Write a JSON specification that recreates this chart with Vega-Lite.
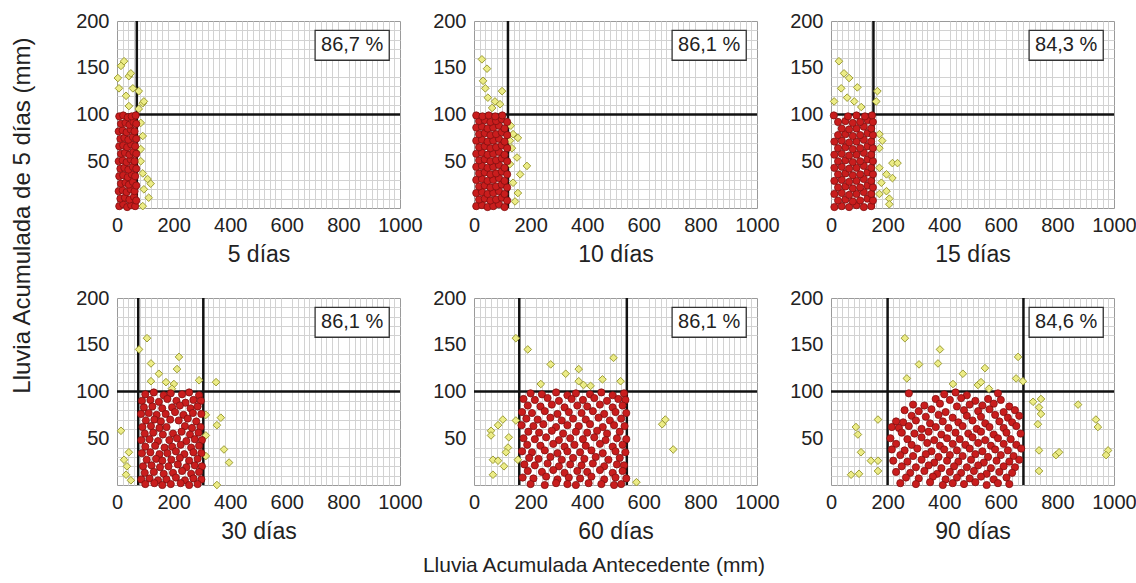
{
"$schema": "https://vega.github.io/schema/vega-lite/v6.json",
"background": "white",
"padding": {"left": 11, "top": 10, "right": 5, "bottom": 5},
"config": {
  "font": "Liberation Sans",
  "view": {"stroke": "#9a9a9a", "strokeWidth": 1},
  "axis": {"labelFontSize": 20, "labelColor": "#222", "titleFontSize": 23, "titleFontWeight": "normal", "titleColor": "#222", "labelOverlap": false, "labelFlush": false, "format": "d"},
  "axisTop": {"grid": true, "gridColor": "#d2d2d2", "gridWidth": 1, "labels": false, "ticks": false, "domain": false, "title": null},
  "axisRight": {"grid": true, "gridColor": "#d2d2d2", "gridWidth": 1, "labels": false, "ticks": false, "domain": false, "title": null},
  "axisBottom": {"grid": true, "gridColor": "#a6a6a6", "ticks": false, "domain": false, "labelPadding": 7, "titlePadding": 8},
  "axisLeft": {"grid": true, "gridColor": "#a6a6a6", "ticks": false, "domain": false, "labelPadding": 8},
  "title": {"fontSize": 21, "fontWeight": "normal", "color": "#222", "font": "Liberation Sans"}
},
"datasets": {
"r1": [{"x":8,"y":2},{"x":22,"y":4},{"x":36,"y":1},{"x":50,"y":3},{"x":64,"y":2},{"x":12,"y":10},{"x":28,"y":11},{"x":44,"y":9},{"x":60,"y":12},{"x":68,"y":8},{"x":6,"y":18},{"x":20,"y":19},{"x":34,"y":17},{"x":48,"y":20},{"x":62,"y":18},{"x":14,"y":26},{"x":30,"y":27},{"x":42,"y":25},{"x":56,"y":28},{"x":68,"y":24},{"x":8,"y":34},{"x":22,"y":35},{"x":38,"y":33},{"x":52,"y":36},{"x":64,"y":34},{"x":12,"y":42},{"x":26,"y":43},{"x":40,"y":41},{"x":56,"y":44},{"x":68,"y":42},{"x":6,"y":50},{"x":20,"y":51},{"x":34,"y":49},{"x":48,"y":52},{"x":62,"y":50},{"x":14,"y":58},{"x":28,"y":59},{"x":44,"y":57},{"x":58,"y":60},{"x":68,"y":58},{"x":8,"y":66},{"x":22,"y":67},{"x":36,"y":65},{"x":50,"y":68},{"x":64,"y":66},{"x":12,"y":74},{"x":26,"y":75},{"x":40,"y":73},{"x":56,"y":76},{"x":68,"y":74},{"x":6,"y":82},{"x":20,"y":83},{"x":34,"y":81},{"x":48,"y":84},{"x":62,"y":82},{"x":14,"y":90},{"x":30,"y":91},{"x":44,"y":89},{"x":58,"y":92},{"x":68,"y":90},{"x":8,"y":98},{"x":22,"y":99},{"x":38,"y":97},{"x":52,"y":98},{"x":66,"y":99}],
"y1": [{"x":25,"y":157},{"x":3,"y":139},{"x":42,"y":141},{"x":7,"y":128},{"x":56,"y":128},{"x":32,"y":120},{"x":91,"y":112},{"x":42,"y":109},{"x":77,"y":106},{"x":84,"y":91},{"x":91,"y":77},{"x":84,"y":63},{"x":91,"y":37},{"x":108,"y":31},{"x":119,"y":26},{"x":95,"y":20},{"x":112,"y":11},{"x":91,"y":2},{"x":14,"y":152},{"x":49,"y":144},{"x":77,"y":125},{"x":95,"y":114},{"x":84,"y":50}],
"r2": [{"x":8,"y":2},{"x":28,"y":3},{"x":48,"y":1},{"x":68,"y":2},{"x":88,"y":4},{"x":108,"y":1},{"x":18,"y":9},{"x":38,"y":10},{"x":58,"y":8},{"x":78,"y":9},{"x":98,"y":11},{"x":117,"y":8},{"x":8,"y":16},{"x":28,"y":17},{"x":48,"y":15},{"x":68,"y":16},{"x":88,"y":18},{"x":108,"y":15},{"x":18,"y":23},{"x":38,"y":24},{"x":58,"y":22},{"x":78,"y":23},{"x":98,"y":25},{"x":117,"y":22},{"x":8,"y":30},{"x":28,"y":31},{"x":48,"y":29},{"x":68,"y":30},{"x":88,"y":32},{"x":108,"y":29},{"x":18,"y":37},{"x":38,"y":38},{"x":58,"y":36},{"x":78,"y":37},{"x":98,"y":39},{"x":117,"y":36},{"x":8,"y":44},{"x":28,"y":45},{"x":48,"y":43},{"x":68,"y":44},{"x":88,"y":46},{"x":108,"y":43},{"x":18,"y":51},{"x":38,"y":52},{"x":58,"y":50},{"x":78,"y":51},{"x":98,"y":53},{"x":117,"y":50},{"x":8,"y":58},{"x":28,"y":59},{"x":48,"y":57},{"x":68,"y":58},{"x":88,"y":60},{"x":108,"y":57},{"x":18,"y":65},{"x":38,"y":66},{"x":58,"y":64},{"x":78,"y":65},{"x":98,"y":67},{"x":117,"y":64},{"x":8,"y":72},{"x":28,"y":73},{"x":48,"y":71},{"x":68,"y":72},{"x":88,"y":74},{"x":108,"y":71},{"x":18,"y":79},{"x":38,"y":80},{"x":58,"y":78},{"x":78,"y":79},{"x":98,"y":81},{"x":117,"y":78},{"x":8,"y":86},{"x":28,"y":87},{"x":48,"y":85},{"x":68,"y":86},{"x":88,"y":88},{"x":108,"y":85},{"x":18,"y":93},{"x":38,"y":94},{"x":58,"y":92},{"x":78,"y":93},{"x":98,"y":95},{"x":117,"y":92},{"x":8,"y":99},{"x":30,"y":98},{"x":52,"y":99},{"x":75,"y":98},{"x":100,"y":99}],
"y2": [{"x":28,"y":159},{"x":46,"y":149},{"x":32,"y":136},{"x":99,"y":125},{"x":49,"y":118},{"x":74,"y":114},{"x":64,"y":107},{"x":92,"y":111},{"x":138,"y":79},{"x":155,"y":75},{"x":134,"y":64},{"x":152,"y":54},{"x":187,"y":45},{"x":163,"y":36},{"x":138,"y":27},{"x":155,"y":16},{"x":145,"y":7},{"x":127,"y":47},{"x":127,"y":72},{"x":40,"y":128},{"x":130,"y":88}],
"r3": [{"x":12,"y":1},{"x":38,"y":2},{"x":64,"y":1},{"x":90,"y":3},{"x":116,"y":1},{"x":142,"y":2},{"x":25,"y":8},{"x":51,"y":9},{"x":77,"y":7},{"x":103,"y":8},{"x":129,"y":10},{"x":148,"y":8},{"x":12,"y":15},{"x":38,"y":16},{"x":64,"y":14},{"x":90,"y":15},{"x":116,"y":17},{"x":142,"y":15},{"x":25,"y":22},{"x":51,"y":23},{"x":77,"y":21},{"x":103,"y":22},{"x":129,"y":24},{"x":148,"y":22},{"x":12,"y":29},{"x":38,"y":30},{"x":64,"y":28},{"x":90,"y":29},{"x":116,"y":31},{"x":142,"y":29},{"x":25,"y":36},{"x":51,"y":37},{"x":77,"y":35},{"x":103,"y":36},{"x":129,"y":38},{"x":148,"y":36},{"x":12,"y":43},{"x":38,"y":44},{"x":64,"y":42},{"x":90,"y":43},{"x":116,"y":45},{"x":142,"y":43},{"x":25,"y":50},{"x":51,"y":51},{"x":77,"y":49},{"x":103,"y":50},{"x":129,"y":52},{"x":148,"y":50},{"x":12,"y":57},{"x":38,"y":58},{"x":64,"y":56},{"x":90,"y":57},{"x":116,"y":59},{"x":142,"y":57},{"x":25,"y":64},{"x":51,"y":65},{"x":77,"y":63},{"x":103,"y":64},{"x":129,"y":66},{"x":148,"y":64},{"x":12,"y":71},{"x":38,"y":72},{"x":64,"y":70},{"x":90,"y":71},{"x":116,"y":73},{"x":142,"y":71},{"x":25,"y":78},{"x":51,"y":79},{"x":77,"y":77},{"x":103,"y":78},{"x":129,"y":80},{"x":148,"y":78},{"x":38,"y":85},{"x":64,"y":84},{"x":90,"y":85},{"x":116,"y":87},{"x":142,"y":85},{"x":25,"y":92},{"x":51,"y":93},{"x":77,"y":91},{"x":103,"y":92},{"x":129,"y":94},{"x":148,"y":92},{"x":10,"y":99},{"x":60,"y":98},{"x":90,"y":99},{"x":120,"y":98},{"x":145,"y":99}],
"y3": [{"x":28,"y":157},{"x":46,"y":144},{"x":64,"y":139},{"x":36,"y":128},{"x":93,"y":129},{"x":57,"y":118},{"x":82,"y":114},{"x":107,"y":108},{"x":164,"y":125},{"x":160,"y":114},{"x":11,"y":114},{"x":171,"y":79},{"x":181,"y":72},{"x":171,"y":64},{"x":217,"y":48},{"x":235,"y":48},{"x":171,"y":43},{"x":196,"y":36},{"x":217,"y":32},{"x":178,"y":27},{"x":196,"y":18},{"x":206,"y":10},{"x":171,"y":15},{"x":206,"y":4}],
"r4": [{"x":100,"y":97},{"x":130,"y":99},{"x":165,"y":96},{"x":190,"y":98},{"x":230,"y":97},{"x":255,"y":99},{"x":290,"y":96},{"x":88,"y":90},{"x":118,"y":91},{"x":148,"y":89},{"x":178,"y":92},{"x":210,"y":90},{"x":242,"y":88},{"x":270,"y":91},{"x":296,"y":90},{"x":95,"y":83},{"x":125,"y":84},{"x":160,"y":82},{"x":195,"y":83},{"x":222,"y":85},{"x":260,"y":82},{"x":285,"y":84},{"x":85,"y":76},{"x":112,"y":77},{"x":140,"y":75},{"x":172,"y":76},{"x":205,"y":78},{"x":235,"y":75},{"x":268,"y":77},{"x":298,"y":76},{"x":102,"y":69},{"x":132,"y":70},{"x":155,"y":68},{"x":188,"y":70},{"x":218,"y":69},{"x":250,"y":71},{"x":280,"y":68},{"x":90,"y":62},{"x":120,"y":63},{"x":150,"y":61},{"x":175,"y":62},{"x":240,"y":63},{"x":265,"y":61},{"x":295,"y":62},{"x":98,"y":55},{"x":128,"y":56},{"x":162,"y":54},{"x":198,"y":55},{"x":228,"y":57},{"x":258,"y":54},{"x":288,"y":56},{"x":86,"y":48},{"x":115,"y":49},{"x":145,"y":47},{"x":185,"y":48},{"x":212,"y":50},{"x":245,"y":47},{"x":275,"y":49},{"x":300,"y":48},{"x":100,"y":41},{"x":135,"y":42},{"x":168,"y":40},{"x":195,"y":41},{"x":225,"y":43},{"x":262,"y":40},{"x":290,"y":42},{"x":88,"y":34},{"x":118,"y":35},{"x":150,"y":33},{"x":178,"y":34},{"x":208,"y":36},{"x":238,"y":33},{"x":270,"y":35},{"x":298,"y":34},{"x":105,"y":27},{"x":138,"y":28},{"x":160,"y":26},{"x":192,"y":27},{"x":222,"y":29},{"x":255,"y":26},{"x":285,"y":28},{"x":92,"y":20},{"x":122,"y":21},{"x":152,"y":19},{"x":182,"y":20},{"x":215,"y":22},{"x":245,"y":19},{"x":275,"y":21},{"x":300,"y":20},{"x":98,"y":13},{"x":130,"y":14},{"x":165,"y":12},{"x":198,"y":13},{"x":230,"y":15},{"x":262,"y":12},{"x":290,"y":14},{"x":86,"y":6},{"x":115,"y":7},{"x":145,"y":5},{"x":175,"y":6},{"x":208,"y":8},{"x":240,"y":5},{"x":270,"y":7},{"x":298,"y":6},{"x":100,"y":1},{"x":132,"y":2},{"x":160,"y":0},{"x":190,"y":1},{"x":225,"y":2},{"x":255,"y":0},{"x":285,"y":1}],
"y4": [{"x":106,"y":157},{"x":78,"y":145},{"x":120,"y":130},{"x":148,"y":119},{"x":120,"y":111},{"x":173,"y":110},{"x":201,"y":108},{"x":219,"y":137},{"x":212,"y":124},{"x":290,"y":112},{"x":350,"y":110},{"x":194,"y":103},{"x":314,"y":75},{"x":367,"y":72},{"x":353,"y":64},{"x":314,"y":53},{"x":14,"y":58},{"x":378,"y":38},{"x":396,"y":24},{"x":353,"y":0},{"x":42,"y":35},{"x":35,"y":20},{"x":32,"y":11},{"x":49,"y":5},{"x":25,"y":27},{"x":314,"y":31}],
"r5": [{"x":200,"y":98},{"x":240,"y":97},{"x":290,"y":99},{"x":330,"y":96},{"x":360,"y":98},{"x":410,"y":97},{"x":450,"y":99},{"x":490,"y":96},{"x":530,"y":98},{"x":175,"y":92},{"x":215,"y":91},{"x":260,"y":93},{"x":300,"y":90},{"x":345,"y":92},{"x":385,"y":91},{"x":425,"y":93},{"x":470,"y":90},{"x":510,"y":92},{"x":535,"y":91},{"x":190,"y":85},{"x":235,"y":84},{"x":275,"y":86},{"x":320,"y":83},{"x":365,"y":85},{"x":400,"y":84},{"x":445,"y":86},{"x":490,"y":83},{"x":525,"y":85},{"x":170,"y":78},{"x":205,"y":77},{"x":250,"y":79},{"x":295,"y":76},{"x":335,"y":78},{"x":380,"y":77},{"x":420,"y":79},{"x":460,"y":76},{"x":500,"y":78},{"x":538,"y":77},{"x":185,"y":71},{"x":225,"y":70},{"x":270,"y":72},{"x":310,"y":69},{"x":350,"y":71},{"x":395,"y":70},{"x":440,"y":72},{"x":480,"y":69},{"x":520,"y":71},{"x":168,"y":64},{"x":210,"y":63},{"x":245,"y":65},{"x":290,"y":62},{"x":330,"y":64},{"x":370,"y":63},{"x":410,"y":65},{"x":455,"y":62},{"x":495,"y":64},{"x":532,"y":63},{"x":192,"y":57},{"x":230,"y":56},{"x":275,"y":58},{"x":315,"y":55},{"x":360,"y":57},{"x":400,"y":56},{"x":435,"y":58},{"x":470,"y":55},{"x":515,"y":57},{"x":175,"y":50},{"x":215,"y":49},{"x":255,"y":51},{"x":300,"y":48},{"x":340,"y":50},{"x":385,"y":49},{"x":425,"y":51},{"x":465,"y":48},{"x":505,"y":50},{"x":538,"y":49},{"x":188,"y":43},{"x":235,"y":42},{"x":280,"y":44},{"x":320,"y":41},{"x":355,"y":43},{"x":395,"y":42},{"x":445,"y":44},{"x":490,"y":41},{"x":525,"y":43},{"x":170,"y":36},{"x":205,"y":35},{"x":250,"y":37},{"x":295,"y":34},{"x":330,"y":36},{"x":375,"y":35},{"x":415,"y":37},{"x":455,"y":34},{"x":500,"y":36},{"x":535,"y":35},{"x":195,"y":29},{"x":228,"y":28},{"x":270,"y":30},{"x":310,"y":27},{"x":350,"y":29},{"x":390,"y":28},{"x":430,"y":30},{"x":475,"y":27},{"x":515,"y":29},{"x":178,"y":22},{"x":215,"y":21},{"x":260,"y":23},{"x":300,"y":20},{"x":340,"y":22},{"x":380,"y":21},{"x":420,"y":23},{"x":460,"y":20},{"x":505,"y":22},{"x":530,"y":21},{"x":190,"y":15},{"x":240,"y":14},{"x":280,"y":16},{"x":320,"y":13},{"x":365,"y":15},{"x":400,"y":14},{"x":445,"y":16},{"x":490,"y":13},{"x":525,"y":15},{"x":172,"y":8},{"x":210,"y":7},{"x":255,"y":9},{"x":295,"y":6},{"x":335,"y":8},{"x":375,"y":7},{"x":415,"y":9},{"x":460,"y":6},{"x":500,"y":8},{"x":538,"y":7},{"x":200,"y":1},{"x":250,"y":0},{"x":290,"y":2},{"x":330,"y":1},{"x":360,"y":0},{"x":405,"y":2},{"x":450,"y":1},{"x":495,"y":0},{"x":520,"y":1}],
"y5": [{"x":148,"y":157},{"x":190,"y":145},{"x":271,"y":129},{"x":324,"y":119},{"x":370,"y":124},{"x":236,"y":108},{"x":370,"y":111},{"x":387,"y":107},{"x":412,"y":106},{"x":454,"y":113},{"x":493,"y":136},{"x":518,"y":111},{"x":102,"y":70},{"x":85,"y":64},{"x":60,"y":58},{"x":60,"y":53},{"x":148,"y":69},{"x":123,"y":51},{"x":120,"y":40},{"x":113,"y":35},{"x":67,"y":27},{"x":85,"y":26},{"x":106,"y":20},{"x":67,"y":11},{"x":155,"y":27},{"x":665,"y":65},{"x":676,"y":70},{"x":704,"y":38},{"x":574,"y":3}],
"r6": [{"x":275,"y":98},{"x":400,"y":97},{"x":440,"y":99},{"x":480,"y":96},{"x":590,"y":98},{"x":370,"y":92},{"x":420,"y":91},{"x":460,"y":93},{"x":510,"y":90},{"x":555,"y":92},{"x":600,"y":91},{"x":290,"y":86},{"x":330,"y":85},{"x":385,"y":87},{"x":445,"y":84},{"x":490,"y":86},{"x":535,"y":85},{"x":575,"y":87},{"x":630,"y":84},{"x":260,"y":80},{"x":310,"y":79},{"x":355,"y":81},{"x":405,"y":78},{"x":470,"y":80},{"x":520,"y":79},{"x":560,"y":81},{"x":610,"y":78},{"x":650,"y":80},{"x":285,"y":74},{"x":335,"y":73},{"x":380,"y":75},{"x":430,"y":72},{"x":480,"y":74},{"x":530,"y":73},{"x":580,"y":75},{"x":625,"y":72},{"x":665,"y":74},{"x":230,"y":68},{"x":255,"y":67},{"x":300,"y":69},{"x":350,"y":66},{"x":395,"y":68},{"x":450,"y":67},{"x":500,"y":69},{"x":545,"y":66},{"x":595,"y":68},{"x":640,"y":67},{"x":215,"y":62},{"x":240,"y":61},{"x":275,"y":63},{"x":320,"y":60},{"x":370,"y":62},{"x":415,"y":61},{"x":465,"y":63},{"x":515,"y":60},{"x":560,"y":62},{"x":610,"y":61},{"x":655,"y":63},{"x":250,"y":56},{"x":295,"y":55},{"x":345,"y":57},{"x":390,"y":54},{"x":440,"y":56},{"x":485,"y":55},{"x":530,"y":57},{"x":575,"y":54},{"x":620,"y":56},{"x":670,"y":55},{"x":210,"y":50},{"x":270,"y":49},{"x":320,"y":51},{"x":365,"y":48},{"x":410,"y":50},{"x":455,"y":49},{"x":500,"y":51},{"x":545,"y":48},{"x":590,"y":50},{"x":635,"y":49},{"x":230,"y":44},{"x":285,"y":43},{"x":340,"y":45},{"x":385,"y":42},{"x":430,"y":44},{"x":475,"y":43},{"x":520,"y":45},{"x":565,"y":42},{"x":610,"y":44},{"x":655,"y":43},{"x":215,"y":38},{"x":260,"y":37},{"x":305,"y":39},{"x":355,"y":36},{"x":400,"y":38},{"x":445,"y":37},{"x":490,"y":39},{"x":535,"y":36},{"x":580,"y":38},{"x":625,"y":37},{"x":672,"y":39},{"x":245,"y":32},{"x":290,"y":31},{"x":335,"y":33},{"x":380,"y":30},{"x":420,"y":32},{"x":465,"y":31},{"x":510,"y":33},{"x":555,"y":30},{"x":600,"y":32},{"x":645,"y":31},{"x":220,"y":26},{"x":270,"y":25},{"x":320,"y":27},{"x":365,"y":24},{"x":410,"y":26},{"x":450,"y":25},{"x":495,"y":27},{"x":540,"y":24},{"x":585,"y":26},{"x":630,"y":25},{"x":665,"y":27},{"x":250,"y":20},{"x":300,"y":19},{"x":345,"y":21},{"x":390,"y":18},{"x":435,"y":20},{"x":480,"y":19},{"x":520,"y":21},{"x":565,"y":18},{"x":610,"y":20},{"x":650,"y":19},{"x":230,"y":14},{"x":280,"y":13},{"x":330,"y":15},{"x":375,"y":12},{"x":420,"y":14},{"x":460,"y":13},{"x":505,"y":15},{"x":550,"y":12},{"x":595,"y":14},{"x":640,"y":13},{"x":265,"y":8},{"x":310,"y":7},{"x":360,"y":9},{"x":405,"y":6},{"x":445,"y":8},{"x":490,"y":7},{"x":530,"y":9},{"x":575,"y":6},{"x":620,"y":8},{"x":245,"y":2},{"x":300,"y":1},{"x":350,"y":3},{"x":395,"y":0},{"x":430,"y":2},{"x":470,"y":1},{"x":510,"y":3},{"x":550,"y":0},{"x":590,"y":2},{"x":630,"y":1}],
"y6": [{"x":261,"y":157},{"x":311,"y":129},{"x":268,"y":114},{"x":385,"y":145},{"x":378,"y":130},{"x":466,"y":119},{"x":431,"y":108},{"x":544,"y":125},{"x":519,"y":107},{"x":530,"y":110},{"x":558,"y":103},{"x":661,"y":137},{"x":654,"y":114},{"x":678,"y":111},{"x":714,"y":89},{"x":742,"y":92},{"x":735,"y":83},{"x":742,"y":76},{"x":731,"y":65},{"x":873,"y":86},{"x":936,"y":70},{"x":943,"y":62},{"x":735,"y":37},{"x":795,"y":32},{"x":806,"y":35},{"x":979,"y":37},{"x":972,"y":32},{"x":735,"y":15},{"x":88,"y":62},{"x":95,"y":54},{"x":166,"y":70},{"x":106,"y":35},{"x":141,"y":26},{"x":166,"y":26},{"x":166,"y":15},{"x":71,"y":11},{"x":99,"y":12}]
},
"title": {"text": "Lluvia Acumulada Antecedente (mm)", "orient": "bottom", "anchor": "middle", "offset": 11, "dx": 20},
"vconcat": [
{
"title": {"text": "Lluvia Acumulada de 5 días (mm)", "orient": "left", "anchor": "end", "fontSize": 24, "offset": 40, "dx": -27},
"columns": 3,
"spacing": {"row": 90, "column": 74},
"bounds": "flush",
"concat": [
{"width": 283, "height": 187, "resolve": {"axis": {"x": "independent", "y": "independent"}}, "layer": [
 {"data": {"name": "r1"}, "mark": {"type": "point", "opacity": 0}, "encoding": {
  "x": {"field": "x", "type": "quantitative", "scale": {"domain": [0, 1000], "nice": false}, "axis": {"orient": "top", "values": [20,40,60,80,100,120,140,160,180,220,240,260,280,300,320,340,360,380,420,440,460,480,500,520,540,560,580,620,640,660,680,700,720,740,760,780,820,840,860,880,900,920,940,960,980]}},
  "y": {"field": "y", "type": "quantitative", "scale": {"domain": [0, 200], "nice": false}, "axis": {"orient": "right", "values": [10,20,30,40,60,70,80,90,110,120,130,140,160,170,180,190]}}}},
 {"data": {"name": "r1"}, "mark": {"type": "point", "opacity": 0}, "encoding": {
  "x": {"field": "x", "type": "quantitative", "axis": {"orient": "bottom", "values": [0,200,400,600,800,1000], "title": "5 días"}},
  "y": {"field": "y", "type": "quantitative", "axis": {"orient": "left", "values": [50,100,150,200], "title": null}}}},
 {"data": {"values": [{"t": 70}]}, "mark": {"type": "rule", "color": "#111", "strokeWidth": 2.5}, "encoding": {"x": {"field": "t", "type": "quantitative", "axis": null}}},
 {"data": {"values": [{"h": 100}]}, "mark": {"type": "rule", "color": "#111", "strokeWidth": 2.5}, "encoding": {"y": {"field": "h", "type": "quantitative", "axis": null}}},
 {"data": {"name": "y1"}, "mark": {"type": "point", "shape": "diamond", "filled": true, "fill": "#ecec86", "stroke": "#9c9c35", "strokeWidth": 1, "size": 58, "opacity": 1}, "encoding": {"x": {"field": "x", "type": "quantitative", "axis": null}, "y": {"field": "y", "type": "quantitative", "axis": null}}},
 {"data": {"name": "r1"}, "mark": {"type": "circle", "fill": "#c91d1d", "stroke": "#801010", "strokeWidth": 0.8, "size": 52, "opacity": 1}, "encoding": {"x": {"field": "x", "type": "quantitative", "axis": null}, "y": {"field": "y", "type": "quantitative", "axis": null}}},
 {"data": {"values": [{"pct": "86,7 %"}]}, "mark": {"type": "rect", "fill": "white", "stroke": "#333", "strokeWidth": 1.3}, "encoding": {"x": {"datum": 700, "type": "quantitative", "axis": null}, "x2": {"datum": 962}, "y": {"datum": 158, "type": "quantitative", "axis": null}, "y2": {"datum": 190}}},
 {"data": {"values": [{"pct": "86,7 %"}]}, "mark": {"type": "text", "fontSize": 20, "color": "#222", "baseline": "middle"}, "encoding": {"x": {"datum": 831, "type": "quantitative", "axis": null}, "y": {"datum": 174, "type": "quantitative", "axis": null}, "text": {"field": "pct"}}}
]},
{"width": 283, "height": 187, "resolve": {"axis": {"x": "independent", "y": "independent"}}, "layer": [
 {"data": {"name": "r2"}, "mark": {"type": "point", "opacity": 0}, "encoding": {
  "x": {"field": "x", "type": "quantitative", "scale": {"domain": [0, 1000], "nice": false}, "axis": {"orient": "top", "values": [20,40,60,80,100,120,140,160,180,220,240,260,280,300,320,340,360,380,420,440,460,480,500,520,540,560,580,620,640,660,680,700,720,740,760,780,820,840,860,880,900,920,940,960,980]}},
  "y": {"field": "y", "type": "quantitative", "scale": {"domain": [0, 200], "nice": false}, "axis": {"orient": "right", "values": [10,20,30,40,60,70,80,90,110,120,130,140,160,170,180,190]}}}},
 {"data": {"name": "r2"}, "mark": {"type": "point", "opacity": 0}, "encoding": {
  "x": {"field": "x", "type": "quantitative", "axis": {"orient": "bottom", "values": [0,200,400,600,800,1000], "title": "10 días"}},
  "y": {"field": "y", "type": "quantitative", "axis": {"orient": "left", "values": [50,100,150,200], "title": null}}}},
 {"data": {"values": [{"t": 120}]}, "mark": {"type": "rule", "color": "#111", "strokeWidth": 2.5}, "encoding": {"x": {"field": "t", "type": "quantitative", "axis": null}}},
 {"data": {"values": [{"h": 100}]}, "mark": {"type": "rule", "color": "#111", "strokeWidth": 2.5}, "encoding": {"y": {"field": "h", "type": "quantitative", "axis": null}}},
 {"data": {"name": "y2"}, "mark": {"type": "point", "shape": "diamond", "filled": true, "fill": "#ecec86", "stroke": "#9c9c35", "strokeWidth": 1, "size": 58, "opacity": 1}, "encoding": {"x": {"field": "x", "type": "quantitative", "axis": null}, "y": {"field": "y", "type": "quantitative", "axis": null}}},
 {"data": {"name": "r2"}, "mark": {"type": "circle", "fill": "#c91d1d", "stroke": "#801010", "strokeWidth": 0.8, "size": 52, "opacity": 1}, "encoding": {"x": {"field": "x", "type": "quantitative", "axis": null}, "y": {"field": "y", "type": "quantitative", "axis": null}}},
 {"data": {"values": [{"pct": "86,1 %"}]}, "mark": {"type": "rect", "fill": "white", "stroke": "#333", "strokeWidth": 1.3}, "encoding": {"x": {"datum": 700, "type": "quantitative", "axis": null}, "x2": {"datum": 962}, "y": {"datum": 158, "type": "quantitative", "axis": null}, "y2": {"datum": 190}}},
 {"data": {"values": [{"pct": "86,1 %"}]}, "mark": {"type": "text", "fontSize": 20, "color": "#222", "baseline": "middle"}, "encoding": {"x": {"datum": 831, "type": "quantitative", "axis": null}, "y": {"datum": 174, "type": "quantitative", "axis": null}, "text": {"field": "pct"}}}
]},
{"width": 283, "height": 187, "resolve": {"axis": {"x": "independent", "y": "independent"}}, "layer": [
 {"data": {"name": "r3"}, "mark": {"type": "point", "opacity": 0}, "encoding": {
  "x": {"field": "x", "type": "quantitative", "scale": {"domain": [0, 1000], "nice": false}, "axis": {"orient": "top", "values": [20,40,60,80,100,120,140,160,180,220,240,260,280,300,320,340,360,380,420,440,460,480,500,520,540,560,580,620,640,660,680,700,720,740,760,780,820,840,860,880,900,920,940,960,980]}},
  "y": {"field": "y", "type": "quantitative", "scale": {"domain": [0, 200], "nice": false}, "axis": {"orient": "right", "values": [10,20,30,40,60,70,80,90,110,120,130,140,160,170,180,190]}}}},
 {"data": {"name": "r3"}, "mark": {"type": "point", "opacity": 0}, "encoding": {
  "x": {"field": "x", "type": "quantitative", "axis": {"orient": "bottom", "values": [0,200,400,600,800,1000], "title": "15 días"}},
  "y": {"field": "y", "type": "quantitative", "axis": {"orient": "left", "values": [50,100,150,200], "title": null}}}},
 {"data": {"values": [{"t": 150}]}, "mark": {"type": "rule", "color": "#111", "strokeWidth": 2.5}, "encoding": {"x": {"field": "t", "type": "quantitative", "axis": null}}},
 {"data": {"values": [{"h": 100}]}, "mark": {"type": "rule", "color": "#111", "strokeWidth": 2.5}, "encoding": {"y": {"field": "h", "type": "quantitative", "axis": null}}},
 {"data": {"name": "y3"}, "mark": {"type": "point", "shape": "diamond", "filled": true, "fill": "#ecec86", "stroke": "#9c9c35", "strokeWidth": 1, "size": 58, "opacity": 1}, "encoding": {"x": {"field": "x", "type": "quantitative", "axis": null}, "y": {"field": "y", "type": "quantitative", "axis": null}}},
 {"data": {"name": "r3"}, "mark": {"type": "circle", "fill": "#c91d1d", "stroke": "#801010", "strokeWidth": 0.8, "size": 52, "opacity": 1}, "encoding": {"x": {"field": "x", "type": "quantitative", "axis": null}, "y": {"field": "y", "type": "quantitative", "axis": null}}},
 {"data": {"values": [{"pct": "84,3 %"}]}, "mark": {"type": "rect", "fill": "white", "stroke": "#333", "strokeWidth": 1.3}, "encoding": {"x": {"datum": 700, "type": "quantitative", "axis": null}, "x2": {"datum": 962}, "y": {"datum": 158, "type": "quantitative", "axis": null}, "y2": {"datum": 190}}},
 {"data": {"values": [{"pct": "84,3 %"}]}, "mark": {"type": "text", "fontSize": 20, "color": "#222", "baseline": "middle"}, "encoding": {"x": {"datum": 831, "type": "quantitative", "axis": null}, "y": {"datum": 174, "type": "quantitative", "axis": null}, "text": {"field": "pct"}}}
]},
{"width": 283, "height": 187, "resolve": {"axis": {"x": "independent", "y": "independent"}}, "layer": [
 {"data": {"name": "r4"}, "mark": {"type": "point", "opacity": 0}, "encoding": {
  "x": {"field": "x", "type": "quantitative", "scale": {"domain": [0, 1000], "nice": false}, "axis": {"orient": "top", "values": [20,40,60,80,100,120,140,160,180,220,240,260,280,300,320,340,360,380,420,440,460,480,500,520,540,560,580,620,640,660,680,700,720,740,760,780,820,840,860,880,900,920,940,960,980]}},
  "y": {"field": "y", "type": "quantitative", "scale": {"domain": [0, 200], "nice": false}, "axis": {"orient": "right", "values": [10,20,30,40,60,70,80,90,110,120,130,140,160,170,180,190]}}}},
 {"data": {"name": "r4"}, "mark": {"type": "point", "opacity": 0}, "encoding": {
  "x": {"field": "x", "type": "quantitative", "axis": {"orient": "bottom", "values": [0,200,400,600,800,1000], "title": "30 días"}},
  "y": {"field": "y", "type": "quantitative", "axis": {"orient": "left", "values": [50,100,150,200], "title": null}}}},
 {"data": {"values": [{"t": 75}, {"t": 305}]}, "mark": {"type": "rule", "color": "#111", "strokeWidth": 2.5}, "encoding": {"x": {"field": "t", "type": "quantitative", "axis": null}}},
 {"data": {"values": [{"h": 100}]}, "mark": {"type": "rule", "color": "#111", "strokeWidth": 2.5}, "encoding": {"y": {"field": "h", "type": "quantitative", "axis": null}}},
 {"data": {"name": "y4"}, "mark": {"type": "point", "shape": "diamond", "filled": true, "fill": "#ecec86", "stroke": "#9c9c35", "strokeWidth": 1, "size": 58, "opacity": 1}, "encoding": {"x": {"field": "x", "type": "quantitative", "axis": null}, "y": {"field": "y", "type": "quantitative", "axis": null}}},
 {"data": {"name": "r4"}, "mark": {"type": "circle", "fill": "#c91d1d", "stroke": "#801010", "strokeWidth": 0.8, "size": 52, "opacity": 1}, "encoding": {"x": {"field": "x", "type": "quantitative", "axis": null}, "y": {"field": "y", "type": "quantitative", "axis": null}}},
 {"data": {"values": [{"pct": "86,1 %"}]}, "mark": {"type": "rect", "fill": "white", "stroke": "#333", "strokeWidth": 1.3}, "encoding": {"x": {"datum": 700, "type": "quantitative", "axis": null}, "x2": {"datum": 962}, "y": {"datum": 158, "type": "quantitative", "axis": null}, "y2": {"datum": 190}}},
 {"data": {"values": [{"pct": "86,1 %"}]}, "mark": {"type": "text", "fontSize": 20, "color": "#222", "baseline": "middle"}, "encoding": {"x": {"datum": 831, "type": "quantitative", "axis": null}, "y": {"datum": 174, "type": "quantitative", "axis": null}, "text": {"field": "pct"}}}
]},
{"width": 283, "height": 187, "resolve": {"axis": {"x": "independent", "y": "independent"}}, "layer": [
 {"data": {"name": "r5"}, "mark": {"type": "point", "opacity": 0}, "encoding": {
  "x": {"field": "x", "type": "quantitative", "scale": {"domain": [0, 1000], "nice": false}, "axis": {"orient": "top", "values": [20,40,60,80,100,120,140,160,180,220,240,260,280,300,320,340,360,380,420,440,460,480,500,520,540,560,580,620,640,660,680,700,720,740,760,780,820,840,860,880,900,920,940,960,980]}},
  "y": {"field": "y", "type": "quantitative", "scale": {"domain": [0, 200], "nice": false}, "axis": {"orient": "right", "values": [10,20,30,40,60,70,80,90,110,120,130,140,160,170,180,190]}}}},
 {"data": {"name": "r5"}, "mark": {"type": "point", "opacity": 0}, "encoding": {
  "x": {"field": "x", "type": "quantitative", "axis": {"orient": "bottom", "values": [0,200,400,600,800,1000], "title": "60 días"}},
  "y": {"field": "y", "type": "quantitative", "axis": {"orient": "left", "values": [50,100,150,200], "title": null}}}},
 {"data": {"values": [{"t": 160}, {"t": 540}]}, "mark": {"type": "rule", "color": "#111", "strokeWidth": 2.5}, "encoding": {"x": {"field": "t", "type": "quantitative", "axis": null}}},
 {"data": {"values": [{"h": 100}]}, "mark": {"type": "rule", "color": "#111", "strokeWidth": 2.5}, "encoding": {"y": {"field": "h", "type": "quantitative", "axis": null}}},
 {"data": {"name": "y5"}, "mark": {"type": "point", "shape": "diamond", "filled": true, "fill": "#ecec86", "stroke": "#9c9c35", "strokeWidth": 1, "size": 58, "opacity": 1}, "encoding": {"x": {"field": "x", "type": "quantitative", "axis": null}, "y": {"field": "y", "type": "quantitative", "axis": null}}},
 {"data": {"name": "r5"}, "mark": {"type": "circle", "fill": "#c91d1d", "stroke": "#801010", "strokeWidth": 0.8, "size": 52, "opacity": 1}, "encoding": {"x": {"field": "x", "type": "quantitative", "axis": null}, "y": {"field": "y", "type": "quantitative", "axis": null}}},
 {"data": {"values": [{"pct": "86,1 %"}]}, "mark": {"type": "rect", "fill": "white", "stroke": "#333", "strokeWidth": 1.3}, "encoding": {"x": {"datum": 700, "type": "quantitative", "axis": null}, "x2": {"datum": 962}, "y": {"datum": 158, "type": "quantitative", "axis": null}, "y2": {"datum": 190}}},
 {"data": {"values": [{"pct": "86,1 %"}]}, "mark": {"type": "text", "fontSize": 20, "color": "#222", "baseline": "middle"}, "encoding": {"x": {"datum": 831, "type": "quantitative", "axis": null}, "y": {"datum": 174, "type": "quantitative", "axis": null}, "text": {"field": "pct"}}}
]},
{"width": 283, "height": 187, "resolve": {"axis": {"x": "independent", "y": "independent"}}, "layer": [
 {"data": {"name": "r6"}, "mark": {"type": "point", "opacity": 0}, "encoding": {
  "x": {"field": "x", "type": "quantitative", "scale": {"domain": [0, 1000], "nice": false}, "axis": {"orient": "top", "values": [20,40,60,80,100,120,140,160,180,220,240,260,280,300,320,340,360,380,420,440,460,480,500,520,540,560,580,620,640,660,680,700,720,740,760,780,820,840,860,880,900,920,940,960,980]}},
  "y": {"field": "y", "type": "quantitative", "scale": {"domain": [0, 200], "nice": false}, "axis": {"orient": "right", "values": [10,20,30,40,60,70,80,90,110,120,130,140,160,170,180,190]}}}},
 {"data": {"name": "r6"}, "mark": {"type": "point", "opacity": 0}, "encoding": {
  "x": {"field": "x", "type": "quantitative", "axis": {"orient": "bottom", "values": [0,200,400,600,800,1000], "title": "90 días"}},
  "y": {"field": "y", "type": "quantitative", "axis": {"orient": "left", "values": [50,100,150,200], "title": null}}}},
 {"data": {"values": [{"t": 200}, {"t": 680}]}, "mark": {"type": "rule", "color": "#111", "strokeWidth": 2.5}, "encoding": {"x": {"field": "t", "type": "quantitative", "axis": null}}},
 {"data": {"values": [{"h": 100}]}, "mark": {"type": "rule", "color": "#111", "strokeWidth": 2.5}, "encoding": {"y": {"field": "h", "type": "quantitative", "axis": null}}},
 {"data": {"name": "y6"}, "mark": {"type": "point", "shape": "diamond", "filled": true, "fill": "#ecec86", "stroke": "#9c9c35", "strokeWidth": 1, "size": 58, "opacity": 1}, "encoding": {"x": {"field": "x", "type": "quantitative", "axis": null}, "y": {"field": "y", "type": "quantitative", "axis": null}}},
 {"data": {"name": "r6"}, "mark": {"type": "circle", "fill": "#c91d1d", "stroke": "#801010", "strokeWidth": 0.8, "size": 52, "opacity": 1}, "encoding": {"x": {"field": "x", "type": "quantitative", "axis": null}, "y": {"field": "y", "type": "quantitative", "axis": null}}},
 {"data": {"values": [{"pct": "84,6 %"}]}, "mark": {"type": "rect", "fill": "white", "stroke": "#333", "strokeWidth": 1.3}, "encoding": {"x": {"datum": 700, "type": "quantitative", "axis": null}, "x2": {"datum": 962}, "y": {"datum": 158, "type": "quantitative", "axis": null}, "y2": {"datum": 190}}},
 {"data": {"values": [{"pct": "84,6 %"}]}, "mark": {"type": "text", "fontSize": 20, "color": "#222", "baseline": "middle"}, "encoding": {"x": {"datum": 831, "type": "quantitative", "axis": null}, "y": {"datum": 174, "type": "quantitative", "axis": null}, "text": {"field": "pct"}}}
]}
]
}
]
}
